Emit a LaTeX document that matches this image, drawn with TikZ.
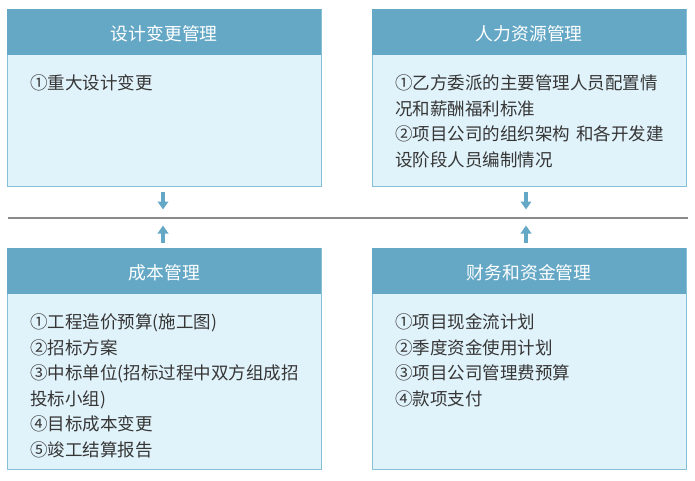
\documentclass[tikz,border=0pt]{standalone}
\usepackage{fontspec}
\setmainfont{Noto Sans CJK SC}
\usetikzlibrary{arrows.meta}
\definecolor{hdr}{HTML}{64A8C6}
\definecolor{bodyc}{HTML}{E0F2FA}
\definecolor{brd}{HTML}{86BFD8}
\definecolor{txt}{HTML}{363636}
\definecolor{sep}{HTML}{8A8A8A}
\definecolor{arr}{HTML}{64A8C6}
\newcommand{\circnum}[1]{\makebox[1em][l]{#1}}
\newcommand{\hdrtext}[1]{\raisebox{-8.7pt}[0pt][0pt]{#1}}
\begin{document}
\begin{tikzpicture}[x=1pt,y=-1pt,
  bodybox/.style={fill=bodyc, draw=brd, line width=1pt, anchor=north west, minimum width=314pt, inner sep=0pt},
  hdrbox/.style={fill=hdr, draw=none, anchor=north west, minimum width=314pt, minimum height=46pt, inner sep=0pt, text=white, font=\fontsize{17.8}{20}\selectfont},
  bodytext/.style={anchor=north west, align=left, text=txt, inner sep=0pt, font=\fontsize{17.5}{25.5}\selectfont},
  fatarrow/.style={draw=arr, line width=3.5pt, -{Triangle[width=10.5pt,length=8pt]}},
  sepline/.style={draw=sep, line width=1.5pt}]
\useasboundingbox (0,0) rectangle (695,481);
% boxes
\node[bodybox, minimum height=177pt] (tlbox) at (7,9) {};
\node[hdrbox] (tlhead) at (7,9) {\hdrtext{设计变更管理}};
\node[bodybox, minimum height=177pt] (trbox) at (372,9) {};
\node[hdrbox] (trhead) at (372,9) {\hdrtext{人力资源管理}};
\node[bodybox, minimum height=221pt] (blbox) at (7,248) {};
\node[hdrbox] (blhead) at (7,248) {\hdrtext{成本管理}};
\node[bodybox, minimum height=221pt] (brbox) at (372,248) {};
\node[hdrbox] (brhead) at (372,248) {\hdrtext{财务和资金管理}};
% texts
\node[bodytext] (tltext) at (30,74.5) {\circnum{①}重大设计变更};
\node[bodytext] (trtext) at (395,74.5) {\circnum{①}乙方委派的主要管理人员配置情\\况和薪酬福利标准\\\circnum{②}项目公司的组织架构\hspace{0.35em}和各开发建\\设阶段人员编制情况};
\node[bodytext] (bltext) at (30,313.5) {\circnum{①}工程造价预算(施工图)\\\circnum{②}招标方案\\\circnum{③}中标单位(招标过程中双方组成招\\投标小组)\\\circnum{④}目标成本变更\\\circnum{⑤}竣工结算报告};
\node[bodytext] (brtext) at (395,313.5) {\circnum{①}项目现金流计划\\\circnum{②}季度资金使用计划\\\circnum{③}项目公司管理费预算\\\circnum{④}款项支付};
% separator
\coordinate (sepL) at (8,218);
\coordinate (sepR) at (688,218);
\draw[sepline] (sepL) -- (sepR);
% arrows
\coordinate (a1s) at (163,192);
\coordinate (a1e) at (163,209.5);
\coordinate (a2s) at (163,243);
\coordinate (a2e) at (163,225.5);
\coordinate (a3s) at (526,192);
\coordinate (a3e) at (526,209.5);
\coordinate (a4s) at (526,243);
\coordinate (a4e) at (526,225.5);
\draw[fatarrow] (a1s) -- (a1e);
\draw[fatarrow] (a2s) -- (a2e);
\draw[fatarrow] (a3s) -- (a3e);
\draw[fatarrow] (a4s) -- (a4e);
\end{tikzpicture}
\end{document}
